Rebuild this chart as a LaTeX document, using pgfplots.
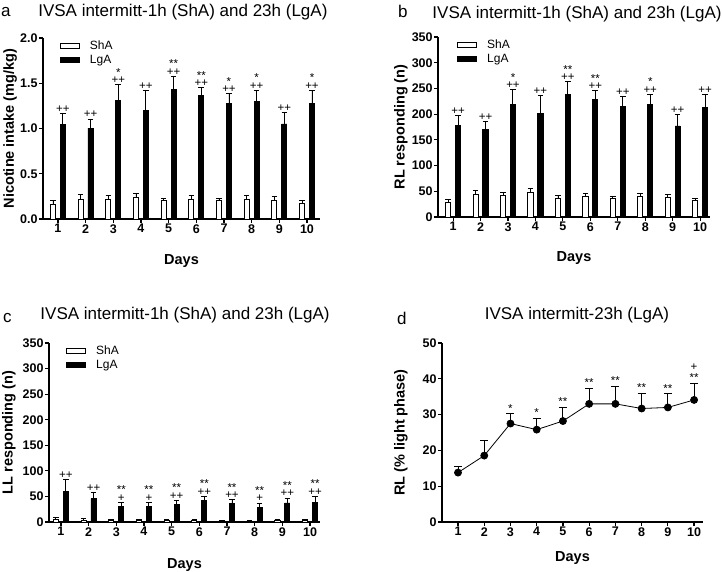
\documentclass[border=0pt]{standalone}
\usepackage{fontspec}
\setmainfont{Liberation Sans}
\usepackage{pgfplots}
\usepackage{pgfplotstable}
\pgfplotsset{compat=1.18}

% day, ShA mean/sem, LgA mean/sem
\pgfplotstableread{
day sha shae lga lgae
1 0.158 0.042 1.046 0.117
2 0.220 0.048 1.005 0.100
3 0.220 0.037 1.306 0.180
4 0.242 0.044 1.204 0.213
5 0.200 0.030 1.435 0.143
6 0.220 0.037 1.369 0.084
7 0.200 0.030 1.277 0.110
8 0.220 0.037 1.299 0.125
9 0.210 0.040 1.050 0.130
10 0.176 0.024 1.273 0.151
}\tabA
\pgfplotstableread{
day sha shae lga lgae
1 28.5 5.5 177.6 20.1
2 43.4 8.6 169.8 16.2
3 42.0 6.0 219.0 28.6
4 47.3 7.7 201.0 35.0
5 35.6 5.4 238.5 25.3
6 40.0 5.0 229.4 16.6
7 35.6 4.4 215.0 19.0
8 39.5 6.5 218.4 20.6
9 37.6 5.4 177.0 22.0
10 32.4 4.6 213.0 25.5
}\tabB
\pgfplotstableread{
day sha shae lga lgae
1 4.5 3.5 60.6 22.2
2 3.0 3.5 45.6 12.4
3 3.0 2.0 30.0 9.0
4 2.6 1.9 30.0 9.0
5 2.6 2.4 34.5 8.5
6 2.6 1.9 41.7 9.1
7 1.3 1.3 35.9 8.4
8 1.3 1.3 28.7 8.5
9 2.6 2.4 37.2 9.8
10 3.0 2.0 37.8 13.0
}\tabC
\pgfplotstableread{
day rl rle
1 13.8 1.7
2 18.55 4.15
3 27.5 2.7
4 25.8 3.2
5 28.2 3.7
6 33.0 4.4
7 33.0 4.8
8 31.7 4.3
9 32.0 3.8
10 34.1 4.7
}\tabD

\pgfplotsset{
  ivsa/.style={
    scale only axis, anchor=south west,
    axis x line*=bottom, axis y line*=left,
    axis line style={line width=1.2pt, black},
    tick style={line width=1.2pt, black},
    tick align=outside, major tick length=4pt,
    xtick={1,...,10}, ymin=0, clip=false,
    tick label style={font=\bfseries\fontsize{12.5}{13}\selectfont, inner sep=1.2pt},
    /pgf/number format/assume math mode=true,
    label style={font=\bfseries\fontsize{14.5}{16}\selectfont},
    every axis title/.style={anchor=base, font=\fontsize{17}{19}\selectfont},
    legend cell align=left,
    legend style={draw=none, fill=none, anchor=north west,
      font=\fontsize{12}{13}\selectfont, row sep=1.5pt,
      nodes={inner sep=1pt},
      /tikz/every odd column/.append style={column sep=9pt}},
  },
  errb/.style={error bars/.cd, y dir=plus, y explicit,
    error bar style={line width=0.9pt, black},
    error mark options={rotate=90, mark size=2.8pt, line width=0.9pt, black}},
  sha/.style={ybar, bar width=5.2pt, bar shift=0pt, draw=black, fill=white,
    line width=0.9pt,
    legend image code/.code={\draw[black, fill=white, line width=0.9pt] (0pt,-2.4pt) rectangle (19pt,2.4pt);},
    errb},
  lga/.style={ybar, bar width=5.2pt, bar shift=0pt, draw=black, fill=black,
    line width=0.9pt,
    legend image code/.code={\draw[black, fill=black, line width=0.9pt] (0pt,-2.4pt) rectangle (19pt,2.4pt);},
    errb},
}
\tikzset{
  sig/.style={anchor=south, inner sep=0pt, align=center, font=\fontsize{11.5}{7.2}\selectfont},
  sigd/.style={anchor=south, inner sep=0pt, align=center, font=\fontsize{11.5}{10.9}\selectfont},
}
% marks of significance above the LgA error bar
\newcommand{\an}[3]{\node[sig, xshift=5pt, yshift=0.8pt] at (axis cs:#1,#2) {#3};}

\begin{document}
\begin{tikzpicture}
\useasboundingbox (0,0) rectangle (722pt,572pt);

% ---------- a ----------
\begin{axis}[ivsa, at={(43pt,353pt)}, width=277pt, height=181pt,
  xmin=0.46, xmax=10.47, ymax=2.0, ytick={0,0.5,1,1.5,2},
  yticklabel style={/pgf/number format/.cd, fixed, zerofill, precision=1},
  title={IVSA intermitt-1h (ShA) and 23h (LgA)},
  title style={at={(axis description cs:0.505,1.116)}},
  xlabel={Days}, xlabel style={at={(axis description cs:0.5,-0.254)}, anchor=base},
  ylabel={Nicotine intake (mg/kg)}, ylabel style={at={(axis description cs:-0.119,0.5)}, anchor=center},
  legend style={at={(0.05,1.0)}}]
\addplot[sha] table[x expr=\thisrow{day}-0.18, y=sha, y error=shae] {\tabA};
\addplot[lga] table[x expr=\thisrow{day}+0.18, y=lga, y error=lgae] {\tabA};
\legend{ShA, LgA}
\an{1}{1.163}{++} \an{2}{1.105}{++} \an{3}{1.486}{*\\++} \an{4}{1.417}{++}
\an{5}{1.578}{**\\++} \an{6}{1.453}{**\\++} \an{7}{1.387}{*\\++} \an{8}{1.424}{*\\++}
\an{9}{1.180}{++} \an{10}{1.424}{*\\++}
\end{axis}

% ---------- b ----------
\begin{axis}[ivsa, at={(438pt,355pt)}, width=272pt, height=180pt,
  xmin=0.45, xmax=10.36, ymax=350, ytick={0,50,...,350},
  title={IVSA intermitt-1h (ShA) and 23h (LgA)},
  title style={at={(axis description cs:0.511,1.1)}},
  xlabel={Days}, xlabel style={at={(axis description cs:0.5,-0.25)}, anchor=base},
  ylabel={RL responding (n)}, ylabel style={at={(axis description cs:-0.136,0.5)}, anchor=center},
  legend style={at={(0.059,1.0)}}]
\addplot[sha] table[x expr=\thisrow{day}-0.18, y=sha, y error=shae] {\tabB};
\addplot[lga] table[x expr=\thisrow{day}+0.18, y=lga, y error=lgae] {\tabB};
\legend{ShA, LgA}
\an{1}{197.7}{++} \an{2}{186}{++} \an{3}{247.6}{*\\++} \an{4}{236}{++}
\an{5}{263.8}{**\\++} \an{6}{246}{**\\++} \an{7}{234}{++} \an{8}{239}{*\\++}
\an{9}{199}{++} \an{10}{238.5}{++}
\end{axis}

% ---------- c ----------
\begin{axis}[ivsa, at={(49pt,50pt)}, width=271pt, height=179pt,
  xmin=0.57, xmax=10.36, ymax=350, ytick={0,50,...,350},
  title={IVSA intermitt-1h (ShA) and 23h (LgA)},
  title style={at={(axis description cs:0.502,1.134)}},
  xlabel={Days}, xlabel style={at={(axis description cs:0.5,-0.257)}, anchor=base},
  ylabel={LL responding (n)}, ylabel style={at={(axis description cs:-0.148,0.5)}, anchor=center},
  legend style={at={(0.052,1.0)}}]
\addplot[sha] table[x expr=\thisrow{day}-0.18, y=sha, y error=shae] {\tabC};
\addplot[lga] table[x expr=\thisrow{day}+0.18, y=lga, y error=lgae] {\tabC};
\legend{ShA, LgA}
\an{1}{82.8}{++} \an{2}{58}{++} \an{3}{39}{**\\+} \an{4}{39}{**\\+}
\an{5}{43}{**\\++} \an{6}{50.8}{**\\++} \an{7}{44.3}{**\\++} \an{8}{37.2}{**\\+}
\an{9}{47}{**\\++} \an{10}{50.8}{**\\++}
\end{axis}

% ---------- d ----------
\begin{axis}[ivsa, at={(442pt,50pt)}, width=261pt, height=179pt,
  xmin=0.39, xmax=10.34, ymax=50, ytick={0,10,...,50},
  title={IVSA intermitt-23h (LgA)},
  title style={at={(axis description cs:0.517,1.134)}},
  xlabel={Days}, xlabel style={at={(axis description cs:0.5,-0.223)}, anchor=base},
  ylabel={RL (\% light phase)}, ylabel style={at={(axis description cs:-0.157,0.5)}, anchor=center}]
\addplot[black, line width=0.8pt, mark=*, mark size=3.5pt, mark options={fill=black},
  error bars/.cd, y dir=plus, y explicit,
  error bar style={line width=1pt, black},
  error mark options={rotate=90, mark size=4pt, line width=1pt, black}]
  table[x=day, y=rl, y error=rle] {\tabD};
\node[sigd, yshift=1.6pt] at (axis cs:3,30.2) {*};
\node[sigd, yshift=1.6pt] at (axis cs:4,29.0) {*};
\node[sigd, yshift=1.6pt] at (axis cs:5,31.9) {**};
\node[sigd, yshift=1.6pt] at (axis cs:6,37.4) {**};
\node[sigd, yshift=1.6pt] at (axis cs:7,37.8) {**};
\node[sigd, yshift=1.6pt] at (axis cs:8,36.0) {**};
\node[sigd, yshift=1.6pt] at (axis cs:9,35.8) {**};
\node[sigd, yshift=1.6pt] at (axis cs:10,38.8) {+\\**};
\end{axis}

% panel letters
\node[anchor=base west, inner sep=0pt, font=\fontsize{17}{19}\selectfont] at (1pt,555pt) {a};
\node[anchor=base west, inner sep=0pt, font=\fontsize{17}{19}\selectfont] at (398pt,554pt) {b};
\node[anchor=base west, inner sep=0pt, font=\fontsize{17}{19}\selectfont] at (3pt,249pt) {c};
\node[anchor=base west, inner sep=0pt, font=\fontsize{17}{19}\selectfont] at (397pt,247pt) {d};
\end{tikzpicture}
\end{document}
